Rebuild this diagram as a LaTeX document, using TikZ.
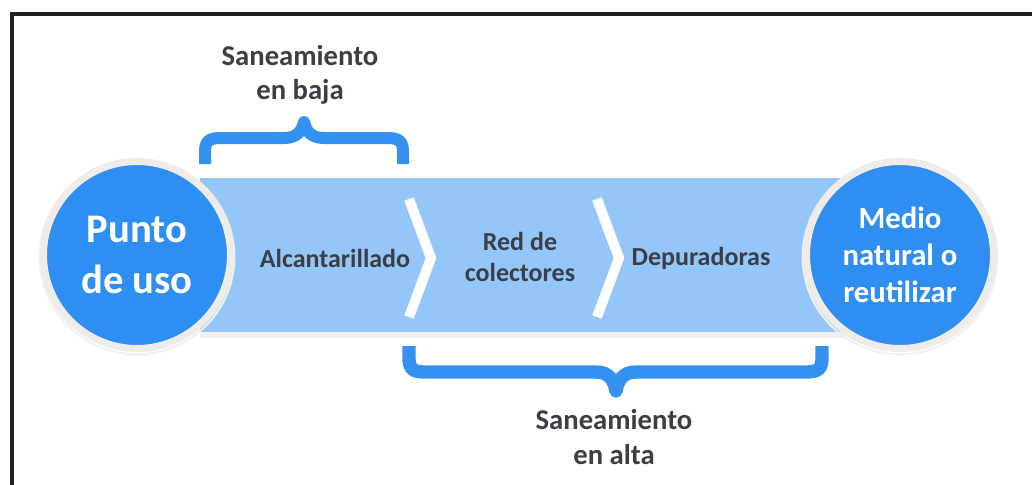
\documentclass[tikz,border=0pt]{standalone}
\usepackage{fontspec}
\setmainfont{Carlito}
\definecolor{bigblue}{HTML}{2E8EF2}
\definecolor{bandblue}{HTML}{94C6F9}
\definecolor{braceblue}{HTML}{3591F0}
\definecolor{ringgray}{HTML}{EFEBE8}
\definecolor{txtgray}{HTML}{3A3F47}
\definecolor{framegray}{HTML}{222222}
\tikzset{
  bigcirc/.style={circle, fill=bigblue, draw=ringgray, line width=5.25pt,
    minimum size=140.25pt, inner sep=0pt, text=white, align=center},
  circshadow/.style={circle, draw=black!6, line width=1.5pt, minimum size=146pt, inner sep=0pt},
  bracestyle/.style={draw=braceblue, line width=9pt, line join=round, line cap=butt},
  chev/.style={draw=white, line width=7.5pt, line cap=butt, line join=miter},
  steplabel/.style={text=txtgray, font=\bfseries\fontsize{19.5}{23}\selectfont, align=center},
  bracelabel/.style={text=txtgray, font=\bfseries\fontsize{21.5}{26}\selectfont, align=center}
}
\begin{document}
\begin{tikzpicture}[x=0.75pt,y=-0.75pt]
\useasboundingbox (0,0) rectangle (1032,485);
\fill[white] (0,0) rectangle (1032,485);
% frame
\draw[framegray, line width=2.4pt] (12,490) -- (12,14) -- (1040,14);
% band with shadow
\fill[black!6] (200,331) rectangle (845,338);
\fill[bandblue] (200,178) rectangle (845,332);
% chevrons
\draw[chev] (409,199) -- (431,258) -- (409,317);
\draw[chev] (597,199) -- (619,258) -- (597,317);
% circles
\node[circshadow] at (137,257) {};
\node[circshadow] at (900,257) {};
\node[bigcirc, font=\bfseries\fontsize{30.5}{38}\selectfont] (pu) at (137,255) {Punto\\de uso};
\node[bigcirc, font=\bfseries\fontsize{23}{28}\selectfont] (mn) at (900,255) {Medio\\natural o\\reutilizar};
% step labels
\node[steplabel] (alc) at (335,258) {Alcantarillado};
\node[steplabel] (red) at (520,257) {Red de\\colectores};
\node[steplabel] (dep) at (701,258) {Depuradoras};
% braces
\coordinate (tbL) at (205,164);
\coordinate (tbR) at (403,164);
\draw[bracestyle] (tbL) -- (205,152) .. controls (205,141) and (209,138) .. (221,138) -- (284,138) .. controls (297,138) and (302,131) .. (304,122) .. controls (306,131) and (311,138) .. (324,138) -- (387,138) .. controls (399,138) and (403,141) .. (403,152) -- (tbR);
\coordinate (bbL) at (409,346);
\coordinate (bbR) at (822,346);
\draw[bracestyle, line width=10pt] (bbL) -- (409,358) .. controls (409,369) and (413,372) .. (425,372) -- (596,372) .. controls (609,372) and (614,380) .. (616,391) .. controls (618,380) and (623,372) .. (636,372) -- (806,372) .. controls (818,372) and (822,369) .. (822,358) -- (bbR);
% brace labels
\node[bracelabel] (baja) at (300,75) {Saneamiento\\en baja};
\node[bracelabel] (alta) at (614,437) {Saneamiento\\en alta};
\end{tikzpicture}
\end{document}
